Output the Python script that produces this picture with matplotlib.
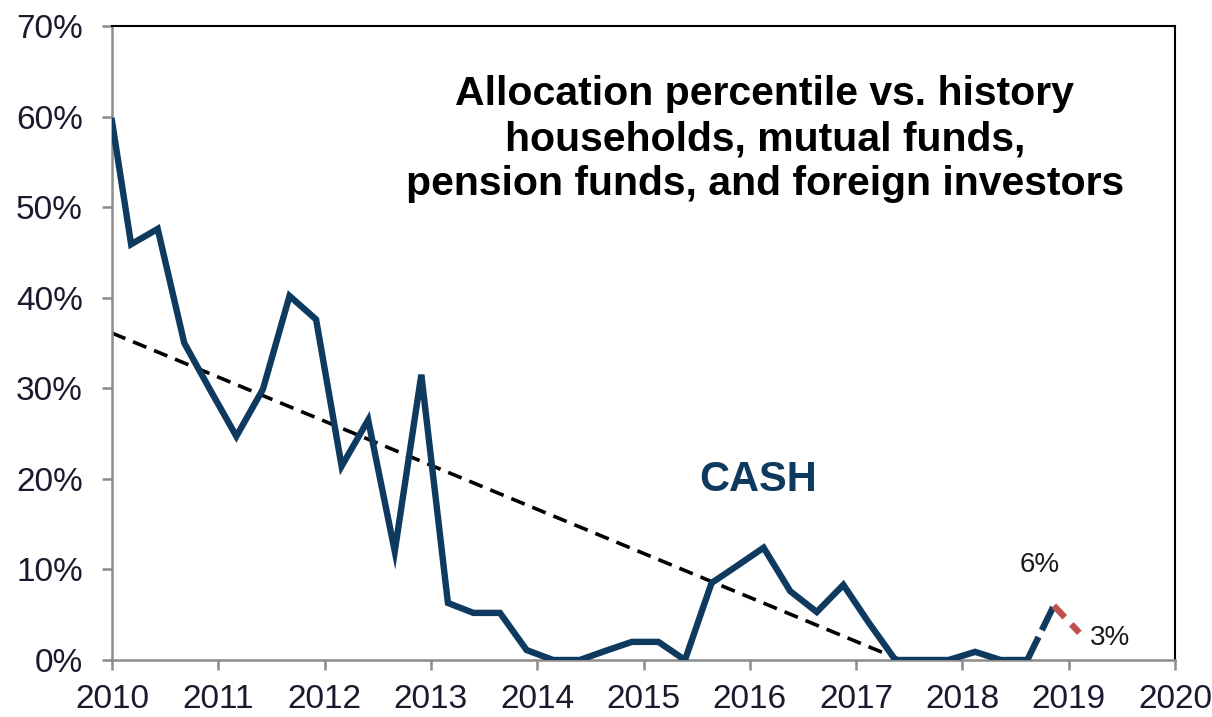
import matplotlib.pyplot as plt
import numpy as np

# ---------------------------------------------------------------
# Data
# ---------------------------------------------------------------
dates = [2010.00, 2010.18, 2010.43, 2010.68, 2010.92, 2011.17, 2011.42, 2011.67,
         2011.92, 2012.16, 2012.41, 2012.66, 2012.91, 2013.16, 2013.40, 2013.65,
         2013.90, 2014.15, 2014.40, 2014.64, 2014.89, 2015.14, 2015.39, 2015.64,
         2015.88, 2016.13, 2016.38, 2016.63, 2016.88, 2017.12, 2017.37, 2017.62,
         2017.87, 2018.12, 2018.36, 2018.61]
cash = [59.5, 45.9, 47.6, 35.0, 29.9, 24.7, 29.9, 40.2,
        37.6, 21.4, 26.5, 12.0, 31.5, 6.3, 5.2, 5.2,
        1.1, 0.0, 0.0, 1.0, 2.0, 2.0, 0.0, 8.5,
        10.4, 12.4, 7.6, 5.3, 8.3, 4.1, 0.0, 0.0,
        0.0, 0.9, 0.0, 0.0]

# latest reading (dashed navy) and estimate (dashed red)
latest_dates = [2018.61, 2018.86]
latest_vals = [0.0, 6.0]
est_dates = [2018.86, 2019.10]
est_vals = [6.0, 3.0]

# linear trend
trend_dates = [2010.0, 2017.42]
trend_vals = [36.1, 0.0]

year_ticks = list(range(2010, 2021))
pct_ticks = list(range(0, 71, 10))

NAVY = '#0E3A5F'
RED = '#C0504D'

# ---------------------------------------------------------------
# Plot
# ---------------------------------------------------------------
plt.rcParams['font.family'] = ['Liberation Sans', 'DejaVu Sans']

fig = plt.figure(figsize=(12.12, 7.17), dpi=100)
ax = fig.add_axes([0.0924, 0.0795, 0.8771, 0.8842])

ax.plot(trend_dates, trend_vals, color='black', lw=2.6, ls=(0, (4, 2.3)), zorder=2)
ax.plot(dates, cash, color=NAVY, lw=4.6, solid_joinstyle='miter', zorder=3)
ax.plot(latest_dates, latest_vals, color=NAVY, lw=4.6, ls=(0, (4, 1.2)), zorder=3)
ax.plot(est_dates, est_vals, color=RED, lw=4.6, ls=(0, (2.5, 1.5)), zorder=3)

ax.set_xlim(2010, 2020)
ax.set_ylim(0, 70)
ax.set_xticks(year_ticks)
ax.set_xticklabels([str(y) for y in year_ticks])
ax.set_yticks(pct_ticks)
ax.set_yticklabels([f'{p}%' for p in pct_ticks])

for side in ['left', 'bottom']:
    ax.spines[side].set_color('#8C8C8C')
    ax.spines[side].set_linewidth(1.8)
for side in ['top', 'right']:
    ax.spines[side].set_color('black')
    ax.spines[side].set_linewidth(1.5)

ax.tick_params(axis='both', direction='out', length=7, width=1.8, color='#8C8C8C',
               labelsize=24, labelcolor='#1A1A2E')
ax.tick_params(axis='y', pad=14)
ax.tick_params(axis='x', pad=10)

ax.text(2016.14, 57.5, 'Allocation percentile vs. history\nhouseholds, mutual funds,\n'
        'pension funds, and foreign investors', ha='center', va='center',
        fontsize=29.5, fontweight='bold', color='black', linespacing=1.24)
ax.text(2016.08, 19.9, 'CASH', ha='center', va='center', fontsize=30,
        fontweight='bold', color=NAVY)
ax.text(2018.73, 10.5, '6%', ha='center', va='center', fontsize=20, color='#1A1A1A')
ax.text(2019.39, 2.4, '3%', ha='center', va='center', fontsize=20, color='#1A1A1A')

fig.savefig('out.png', dpi=100)
